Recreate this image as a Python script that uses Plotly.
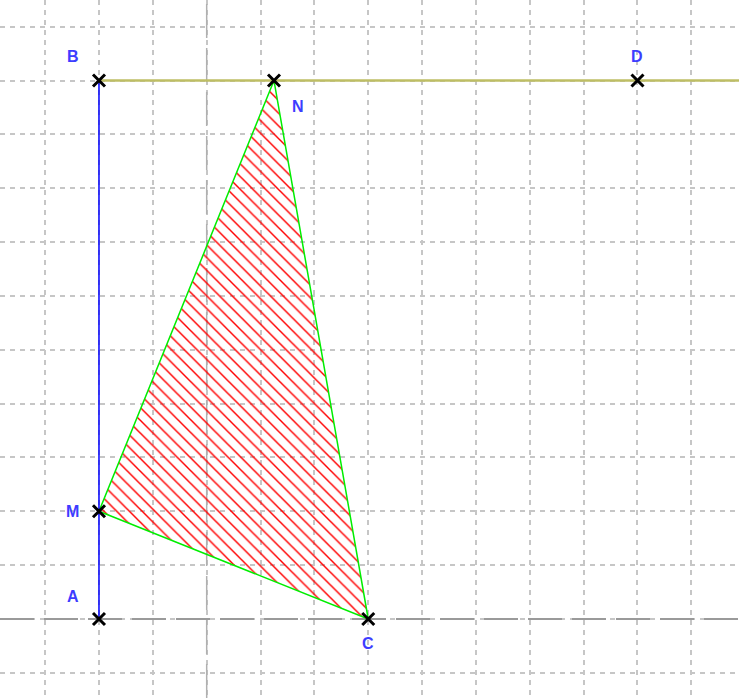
import plotly.graph_objects as go

# Points (grid units, origin at the long-dash axes crossing)
point_names = ["A", "B", "C", "D", "M", "N"]
point_x = [-2, -2, 3, 8, -2, 1.25]
point_y = [0, 10, 0, 10, 2, 10]
# label offsets in pixels (dx, dy up)
label_dx = [-26, -26, 0, 0, -26, 24]
label_dy = [23, 24, -24, 24, 0, -26]

P = dict(zip(point_names, zip(point_x, point_y)))

x_range = [-3.838, 9.885]
y_range = [-1.467, 11.495]

fig = go.Figure()

# triangle MNC hatched
tri = ["M", "N", "C", "M"]
fig.add_trace(go.Scatter(
    x=[P[n][0] for n in tri], y=[P[n][1] for n in tri],
    mode="lines", fill="toself", fillcolor="rgba(0,0,0,0)",
    fillpattern=dict(shape="\\", fgcolor="#ff0000", fgopacity=1,
                     bgcolor="rgba(0,0,0,0)", size=9, solidity=0.16),
    line=dict(color="#00ee00", width=1.5), hoverinfo="skip", showlegend=False))

# segment AB (blue)
fig.add_trace(go.Scatter(
    x=[P["A"][0], P["B"][0]], y=[P["A"][1], P["B"][1]],
    mode="lines", line=dict(color="#0000ff", width=1.5),
    hoverinfo="skip", showlegend=False))

# ray from B through D (olive)
ray_end_x = 12
fig.add_trace(go.Scatter(
    x=[P["B"][0], ray_end_x], y=[P["B"][1], P["D"][1]],
    mode="lines", line=dict(color="#bebe64", width=2.5),
    hoverinfo="skip", showlegend=False))

# points
fig.add_trace(go.Scatter(
    x=point_x, y=point_y, mode="markers",
    marker=dict(symbol="x-thin", size=12, line=dict(color="black", width=3)),
    hoverinfo="skip", showlegend=False))

for n, x, y, dx, dy in zip(point_names, point_x, point_y, label_dx, label_dy):
    fig.add_annotation(x=x, y=y, text="<b>%s</b>" % n, showarrow=False,
                       xshift=dx, yshift=dy,
                       font=dict(family="Liberation Sans", size=16, color="#3d3dff"))

# axes drawn as long-dash lines
fig.add_shape(type="line", x0=x_range[0], x1=x_range[1], y0=0, y1=0, layer="between",
              line=dict(color="#9a9a9a", width=2, dash="34px,10px"))
fig.add_shape(type="line", x0=0, x1=0, y0=y_range[0], y1=y_range[1], layer="between",
              line=dict(color="#b0b0b0", width=1.5, dash="34px,10px"))

axis_common = dict(showgrid=True, gridcolor="#c6c6c6", gridwidth=1.5,
                   griddash="5px,5px", dtick=1, zeroline=False,
                   showticklabels=False, ticks="", showline=False, fixedrange=True)
fig.update_xaxes(range=x_range, tick0=0, **axis_common)
fig.update_yaxes(range=y_range, tick0=0, **axis_common)

fig.update_layout(width=739, height=698, margin=dict(l=0, r=0, t=0, b=0),
                  plot_bgcolor="white", paper_bgcolor="white")

fig.write_html("out.html", config={"displayModeBar": False},
               post_script="document.body.style.margin='0';document.body.style.overflow='hidden';")
